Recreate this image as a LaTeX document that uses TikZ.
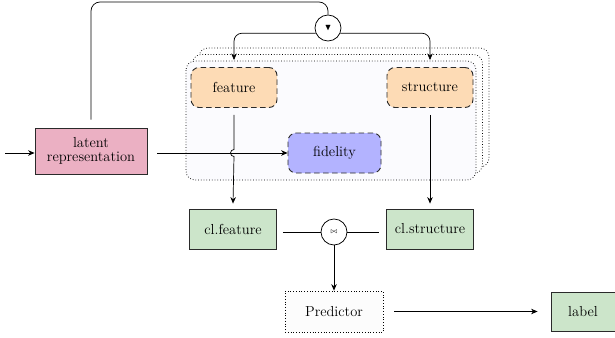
\documentclass[tikz,border=0pt]{standalone}
\usepackage{amssymb}
\usetikzlibrary{arrows.meta}
\definecolor{latpink}{HTML}{EBB0C3}
\definecolor{peach}{HTML}{FDDBB5}
\definecolor{fidblue}{HTML}{B3B3FF}
\definecolor{clgreen}{HTML}{CCE5CA}
\definecolor{contfill}{HTML}{FBFBFE}
\definecolor{predfill}{HTML}{FCFCFC}
\definecolor{bord}{HTML}{2A2A2A}
\tikzset{
  every node/.style={font=\fontsize{14.5}{16.5}\selectfont, inner sep=2pt},
  conn/.style={line width=0.7pt, black},
  arr/.style={conn, -{Stealth[length=6.5pt,width=5.5pt]}},
  solidbox/.style={draw=bord, line width=0.85pt, minimum height=40pt},
  dashbox/.style={draw=bord, line width=0.9pt, dash pattern=on 5.5pt off 3.5pt, rounded corners=8pt, minimum height=40pt},
  contbox/.style={draw=black, line width=0.75pt, dash pattern=on 0.75pt off 2pt, rounded corners=9pt},
  circ/.style={circle, draw=black, line width=0.75pt, fill=white, minimum size=26pt, inner sep=0pt}
}
\begin{document}
\begin{tikzpicture}[x=1pt, y=-1pt]
\useasboundingbox (0,0) rectangle (615,337);
% container with copies
\draw[contbox, fill=white] (199,48) rectangle (489,167);
\draw[contbox, fill=white] (192.5,54.5) rectangle (482.5,173.5);
\draw[contbox, fill=contfill] (186,61) rectangle (476,180);
% nodes
\node[solidbox, fill=latpink, minimum width=112pt, minimum height=46pt, align=center, inner sep=1pt] (lat) at (91,151) {latent\\[-3pt]representation};
\node[dashbox, fill=peach, minimum width=86pt] (feat) at (234,87.5) {feature};
\node[dashbox, fill=peach, minimum width=86pt] (struc) at (430,87.5) {structure};
\node[dashbox, fill=fidblue, minimum width=93pt] (fid) at (334.5,153) {fidelity};
\node[solidbox, fill=clgreen, minimum width=87pt] (clf) at (233,229) {cl.feature};
\node[solidbox, fill=clgreen, minimum width=87pt] (cls) at (430,229) {cl.structure};
\node[circ] (merge) at (334,232) {\fontsize{7}{8}\selectfont$\bowtie$};
\node[circ] (sel) at (328,28) {\fontsize{9}{10}\selectfont$\blacktriangledown$};
\node[draw=black, line width=0.75pt, dash pattern=on 0.75pt off 2pt, fill=predfill, minimum width=98pt, minimum height=41pt] (pred) at (334,311.5) {Predictor};
\node[solidbox, fill=clgreen, minimum width=64pt, minimum height=39pt] (label) at (583,311.5) {label};
% coordinates
\coordinate (in) at (5,153);
\coordinate (topL) at (91,2);
\coordinate (topR) at (328,2);
\coordinate (hop) at (feat.south |- fid.west);
% connectors
\draw[arr] (in) -- (lat.west |- in);
\draw[conn, rounded corners=9pt] ([yshift=8pt]lat.north) -- (topL) -- (topR) -- (sel.north);
\draw[arr, rounded corners=8pt] (sel.203) -| ([yshift=7pt]feat.north);
\draw[arr, rounded corners=8pt] (sel.-23) -| ([yshift=7pt]struc.north);
\draw[arr] ([xshift=10pt]lat.east |- fid.west) -- (fid.west);
\draw[arr] ([yshift=-7pt]feat.south) -- ([yshift=3.5pt]hop) arc[start angle=90, end angle=270, radius=3.5pt] -- ([yshift=5pt]clf.north);
\draw[arr] ([yshift=-7pt]struc.south) -- ([yshift=5pt]cls.north);
\draw[conn] ([xshift=6pt]clf.east |- merge.west) -- (merge.west);
\draw[conn] (merge.east) -- ([xshift=-7pt]cls.west |- merge.east);
\draw[arr] (merge.south) -- (pred.north);
\draw[arr] ([xshift=11pt]pred.east) -- ([xshift=-13pt]label.west);
\end{tikzpicture}
\end{document}
